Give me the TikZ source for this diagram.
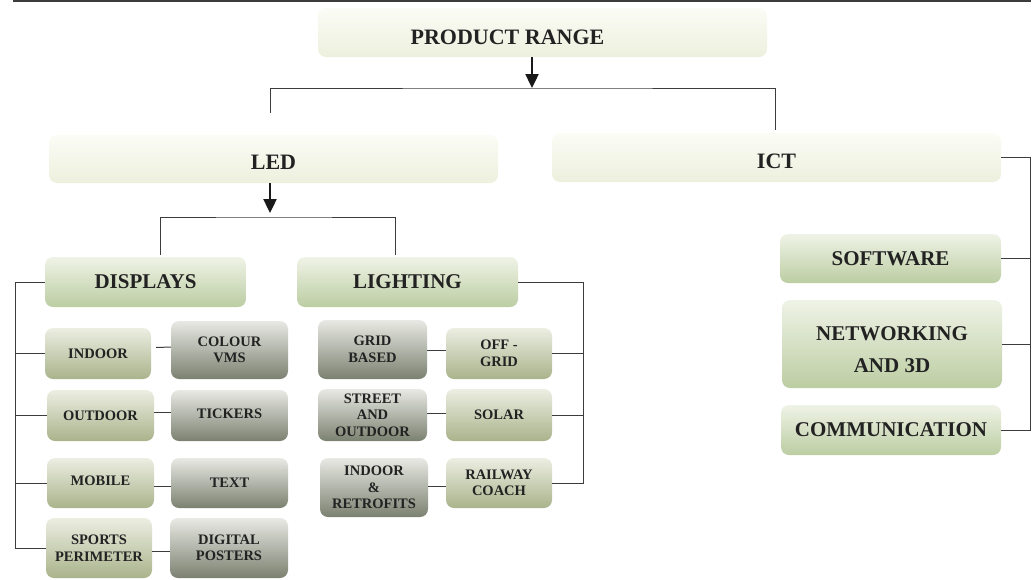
\documentclass[tikz,border=0pt]{standalone}
\usepackage{fontspec}
\setmainfont{Liberation Serif}
\usetikzlibrary{arrows.meta}
\definecolor{topA}{HTML}{FBFCF6}
\definecolor{topB}{HTML}{EDF0DD}
\definecolor{midA}{HTML}{EFF3E7}
\definecolor{midB}{HTML}{BCCDA2}
\definecolor{leafA}{HTML}{ECEEE2}
\definecolor{leafB}{HTML}{A9B38B}
\definecolor{greyA}{HTML}{E8E9E4}
\definecolor{greyB}{HTML}{7B8170}
\definecolor{ink}{HTML}{222222}
\definecolor{wire}{HTML}{3C3C3C}
\begin{document}
\begin{tikzpicture}[x=1pt,y=-1pt,
			box/.style={rounded corners=8pt, inner sep=0pt, align=center, text=ink},
			topbox/.style={box, top color=topA, bottom color=topB, minimum width=449pt, font=\bfseries\fontsize{22}{26}\selectfont},
			midbox/.style={box, top color=midA, bottom color=midB, font=\bfseries\fontsize{21}{25}\selectfont},
			leafbox/.style={box, top color=leafA, bottom color=leafB, font=\bfseries\fontsize{14.5}{16.5}\selectfont},
			greybox/.style={box, top color=greyA, bottom color=greyB, font=\bfseries\fontsize{14.5}{16.5}\selectfont},
			conn/.style={draw=wire, line width=1pt},
			arrowline/.style={draw=black!90, line width=2.4pt, -{Triangle[width=13pt,length=14pt]}}
			]
			\useasboundingbox (0,0) rectangle (1034,579);
			\draw[wire, line width=1.5pt] (13,1) -- (1031,1);
			% top level
			\node[topbox, minimum height=49pt] (prod) at (542.5,32.5) {\rule{0pt}{25pt}PRODUCT RANGE\hspace{70pt}};
			\node[topbox, minimum height=48pt] (led) at (273.5,159) {\rule{0pt}{22pt}LED};
			\node[topbox, minimum height=49pt] (ict) at (776.5,157.5) {\rule{0pt}{23pt}ICT};
			% second level
			\node[midbox, minimum width=201pt, minimum height=50pt] (disp) at (145.5,282) {DISPLAYS};
			\node[midbox, minimum width=221pt, minimum height=50pt] (light) at (407.5,282) {LIGHTING};
			\node[midbox, minimum width=221pt, minimum height=49pt] (soft) at (890.5,258.5) {SOFTWARE};
			\node[midbox, minimum width=220pt, minimum height=88pt] (net) at (892,344) {\rule{0pt}{26pt}NETWORKING\\[7pt]AND 3D};
			\node[midbox, minimum width=220pt, minimum height=50pt] (comm) at (891,430) {COMMUNICATION};
			% displays
			\node[leafbox, minimum width=106pt, minimum height=51pt] (indoor) at (98,353.5) {INDOOR};
			\node[greybox, minimum width=117pt, minimum height=58pt] (colour) at (229.5,350) {COLOUR\\VMS};
			\node[leafbox, minimum width=107pt, minimum height=51pt] (outdoor) at (100.5,415.5) {OUTDOOR};
			\node[greybox, minimum width=117pt, minimum height=51pt] (tick) at (229.5,415.5) {\raisebox{3pt}{TICKERS}};
			\node[leafbox, minimum width=107pt, minimum height=50pt] (mobile) at (100.5,483) {\raisebox{5pt}{MOBILE}};
			\node[greybox, minimum width=117pt, minimum height=50pt] (text) at (229.5,483) {TEXT};
			\node[leafbox, minimum width=106pt, minimum height=60pt] (sport) at (99,548) {SPORTS\\PERIMETER};
			\node[greybox, minimum width=118pt, minimum height=60pt] (digi) at (229,548) {DIGITAL\\POSTERS};
			% lighting
			\node[greybox, minimum width=109pt, minimum height=59pt] (grid) at (372.5,349.5) {GRID\\BASED};
			\node[leafbox, minimum width=106pt, minimum height=51pt] (offgrid) at (499,353.5) {OFF -\\GRID};
			\node[greybox, minimum width=109pt, minimum height=52pt] (street) at (372.5,415) {STREET\\AND\\OUTDOOR};
			\node[leafbox, minimum width=106pt, minimum height=52pt] (solar) at (499,415) {SOLAR};
			\node[greybox, minimum width=108pt, minimum height=59pt] (retro) at (374,487.5) {INDOOR\\\&\\RETROFITS};
			\node[leafbox, minimum width=106pt, minimum height=50pt] (rail) at (499,483) {RAILWAY\\COACH};
			% junctions
			\coordinate (j1) at (532,88);
			\coordinate (j2) at (270,213);
			\coordinate (dspine) at (15,0);
			\coordinate (lspine) at (583,0);
			\coordinate (ispine) at (1030,0);
			% connectors
			\draw[arrowline] (prod.south -| j1) -- (j1);
			\draw[conn] (270,113) |- (j1) -| (775,130);
			\draw[arrowline] (led.south -| j2) -- (j2);
			\draw[conn] (160,255) |- (j2 |- 0,217) -| (395,255);
			\draw[conn] (disp.west) -- (disp.west -| dspine) |- (sport.west);
			\foreach \n in {indoor,outdoor,mobile}
				\draw[conn] (\n.west) -- (\n.west -| dspine);
			\draw[conn] (indoor.east) ++(5,-6) -- (colour.west |- 0,347);
			\draw[conn] (outdoor.east |- 0,412) -- (tick.west |- 0,412);
			\draw[conn] (mobile.east |- 0,486) -- (text.west |- 0,486);
			\draw[conn] (sport.east |- 0,551) -- (digi.west |- 0,551);
			\draw[conn] (light.east) -- (light.east -| lspine) |- (rail.east);
			\foreach \n in {offgrid,solar}
				\draw[conn] (\n.east) -- (\n.east -| lspine);
			\draw[conn] (grid.east |- 0,350) -- (offgrid.west |- 0,350);
			\draw[conn] (street.east |- 0,413) -- (solar.west |- 0,413);
			\draw[conn] (retro.east |- 0,486) -- (rail.west |- 0,486);
			\draw[conn] (ict.east) -- (ict.east -| ispine) |- (comm.east);
			\foreach \n in {soft,net}
				\draw[conn] (\n.east) -- (\n.east -| ispine);
		\end{tikzpicture}
\end{document}
